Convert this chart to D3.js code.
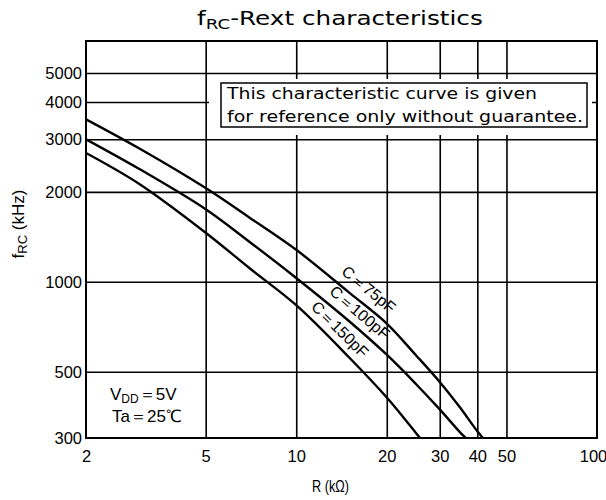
<!DOCTYPE html>
<html><head><meta charset="utf-8">
<script src="https://cdn.jsdelivr.net/npm/d3@7"></script>
<style>body{margin:0;background:#fff}svg{display:block;font-family:"Liberation Sans",Arial,sans-serif}</style>
</head><body><svg id="c" width="606" height="500"></svg>
<script>
// ---- data ----
const xTicks = [2, 5, 10, 20, 30, 40, 50, 100];
const yTicks = [300, 500, 1000, 2000, 3000, 4000, 5000];
const r75  = [2, 3, 5, 7, 10, 15, 20, 25, 30, 35, 40, 42, 43];
const f75  = [3500, 2800, 2060, 1640, 1280, 920, 725, 568, 462, 380, 316, 298, 289];
const r100 = [2, 3, 5, 7, 10, 15, 20, 25, 30, 35, 37, 38];
const f100 = [3000, 2390, 1750, 1360, 1030, 738, 570, 455, 374, 314, 297, 288];
const r150 = [2, 3, 5, 7, 10, 15, 20, 22, 25, 26.5];
const f150 = [2700, 2130, 1460, 1110, 835, 558, 410, 366, 312, 290];
const seriesNames = ["C\uFF1D75pF", "C\uFF1D100pF", "C\uFF1D150pF"];
const noteLines = ["This characteristic curve is given", "for reference only without guarantee."];

// ---- layout ----
const L = 86, R = 597, T = 41, B = 438;
const svg = d3.select("#c");
const x = d3.scaleLog().domain([2, 100]).range([L, R]);
const y = d3.scaleLog().domain([300, 6400]).range([B, T]);

svg.append("defs").append("clipPath").attr("id", "clip")
  .append("rect").attr("x", L).attr("y", T).attr("width", R - L).attr("height", B - T);

// grid
const gx = svg.append("g").attr("transform", `translate(0,${B})`)
  .call(d3.axisBottom(x).tickValues(xTicks.slice(1, -1)).tickSize(-(B - T)).tickFormat(""));
const gy = svg.append("g").attr("transform", `translate(${L},0)`)
  .call(d3.axisLeft(y).tickValues(yTicks.slice(1)).tickSize(-(R - L)).tickFormat(""));
[gx, gy].forEach(g => { g.select(".domain").remove(); g.selectAll("line").attr("stroke", "#000").attr("stroke-width", 1.6); });

// tick labels
const ax = svg.append("g").attr("transform", `translate(0,${B})`)
  .call(d3.axisBottom(x).tickValues(xTicks).tickSize(0).tickPadding(12).tickFormat(d3.format("d")));
const ay = svg.append("g").attr("transform", `translate(${L},0)`)
  .call(d3.axisLeft(y).tickValues(yTicks).tickSize(0).tickPadding(4).tickFormat(d3.format("d")));
[ax, ay].forEach(g => { g.select(".domain").remove();
  g.selectAll("text").attr("fill", "#000").attr("font-size", 16.5).attr("font-family", '"Liberation Sans",Arial,sans-serif'); });
ax.selectAll("text").filter(d => d === 100).attr("dx", -4);

// note box (white knock-out + border)
svg.append("rect").attr("x", 209).attr("y", 79).attr("width", 383).attr("height", 56).attr("fill", "#fff");
svg.append("rect").attr("x", 221).attr("y", 83).attr("width", 366).attr("height", 44)
  .attr("fill", "#fff").attr("stroke", "#000").attr("stroke-width", 1.5);
const noteLen = [310, 356];
noteLines.forEach((t, i) => {
  svg.append("text").attr("x", 227).attr("y", 99 + i * 23).attr("font-size", 16.5)
    .attr("font-family", '"DejaVu Sans",sans-serif')
    .attr("textLength", noteLen[i]).attr("lengthAdjust", "spacingAndGlyphs").text(t);
});

// frame
svg.append("rect").attr("x", L).attr("y", T).attr("width", R - L).attr("height", B - T)
  .attr("fill", "none").attr("stroke", "#000").attr("stroke-width", 2);

// curves
const series = [[r75, f75], [r100, f100], [r150, f150]];
const line = d3.line().x(d => x(d[0])).y(d => y(d[1])).curve(d3.curveCatmullRom.alpha(0.5));
const cg = svg.append("g").attr("clip-path", "url(#clip)");
series.forEach(([rs, fs]) => {
  cg.append("path").datum(rs.map((r, i) => [r, fs[i]])).attr("d", line)
    .attr("fill", "none").attr("stroke", "#000").attr("stroke-width", 2.4);
});

// curve labels
function fAt(rs, fs, r) {
  for (let i = 0; i < rs.length - 1; i++) {
    if (r >= rs[i] && r <= rs[i + 1]) {
      const t = (Math.log(r) - Math.log(rs[i])) / (Math.log(rs[i + 1]) - Math.log(rs[i]));
      return Math.exp(Math.log(fs[i]) + t * (Math.log(fs[i + 1]) - Math.log(fs[i])));
    }
  }
  return fs[fs.length - 1];
}
const labelR = [16.2, 15.2, 13.0];
const labelD = [15, 13.5, 13.5];
series.forEach(([rs, fs], i) => {
  const r = labelR[i];
  const px = x(r), py = y(fAt(rs, fs, r));
  const x1 = x(r * 0.85), y1 = y(fAt(rs, fs, r * 0.85)), x2 = x(r * 1.15), y2 = y(fAt(rs, fs, r * 1.15));
  const th = Math.atan2(y2 - y1, x2 - x1);
  const cx = px + Math.sin(th) * labelD[i], cy = py - Math.cos(th) * labelD[i];
  svg.append("text").attr("transform", `translate(${cx},${cy}) rotate(${th * 180 / Math.PI})`)
    .attr("text-anchor", "middle").attr("dominant-baseline", "central")
    .attr("font-size", 16).text(seriesNames[i]);
});

// conditions
const c1 = svg.append("text").attr("x", 110).attr("y", 400).attr("font-size", 17);
c1.append("tspan").text("V");
c1.append("tspan").attr("font-size", 12).attr("dy", 3).text("DD");
c1.append("tspan").attr("dy", -3).text("\uFF1D5V");
svg.append("text").attr("x", 112).attr("y", 422).attr("font-size", 17).text("Ta\uFF1D25\u2103");

// title (wide gothic look: measured, then stretched horizontally to the reference width)
const tg = svg.append("g");
const tt = tg.append("text").attr("x", 0).attr("y", 0).attr("font-size", 19)
  .attr("font-family", '"DejaVu Sans",sans-serif');
tt.append("tspan").text("f");
tt.append("tspan").attr("font-size", 14).attr("dy", 4).text("RC");
tt.append("tspan").attr("dy", -4).text("-Rext characteristics");
const tw = tt.node().getBBox().width;
tg.attr("transform", `translate(197,25) scale(${286 / tw},1)`);

// axis labels
const yl = svg.append("text").attr("transform", "translate(24,224) rotate(-90)")
  .attr("text-anchor", "middle").attr("font-size", 17);
yl.append("tspan").text("f");
yl.append("tspan").attr("font-size", 13).attr("dy", 3).text("RC");
yl.append("tspan").attr("dy", -3).text(" (kHz)");
svg.append("text").attr("x", 312).attr("y", 492).attr("font-size", 16.5)
  .attr("textLength", 37).attr("lengthAdjust", "spacingAndGlyphs").text("R (k\u03A9)");
</script></body></html>
